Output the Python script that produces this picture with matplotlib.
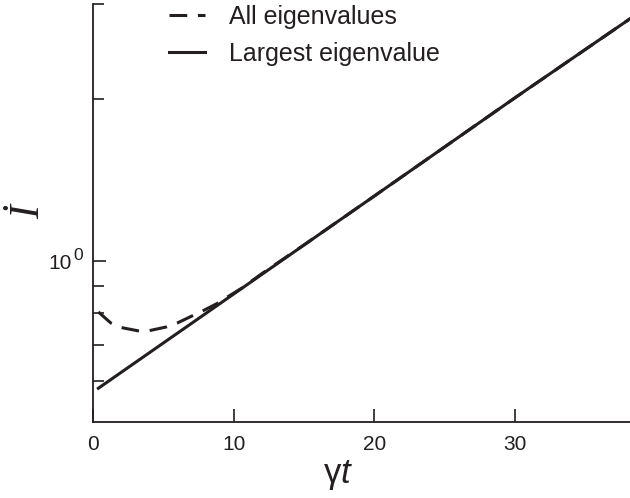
import matplotlib
matplotlib.use("Agg")
import matplotlib.pyplot as plt
from matplotlib.ticker import FixedLocator, FixedFormatter, NullFormatter

plt.rcParams['font.family'] = ['Liberation Sans', 'DejaVu Sans']
plt.rcParams['mathtext.fontset'] = 'custom'
plt.rcParams['mathtext.rm'] = 'Liberation Sans'
plt.rcParams['mathtext.it'] = 'Liberation Sans:italic'
plt.rcParams['mathtext.bf'] = 'Liberation Sans:bold'

# values (gamma*t, I-dot)
t_all = [0.38, 1.26, 2.01, 3.27, 3.99, 5.22, 6.00, 7.07, 7.90, 8.92, 9.68, 10.63, 12.0, 15.0, 20.0, 30.0, 38.2]
i_all = [0.805, 0.768, 0.753, 0.742, 0.743, 0.755, 0.768, 0.792, 0.811, 0.837, 0.862, 0.893, 0.948, 1.072, 1.321, 2.01, 2.82]

t_max = [0.38, 10.0, 20.0, 30.0, 38.2]
i_max = [0.581, 0.869, 1.321, 2.01, 2.82]

labels = ['All eigenvalues', 'Largest eigenvalue']
ink = '#231f20'

fig = plt.figure(figsize=(6.3, 4.98), dpi=100)
ax = fig.add_axes([93 / 630, 76 / 498, 537 / 630, 418 / 498])

ax.plot(t_all, i_all, color=ink, lw=2.2, dashes=(5.8, 3.5), label=labels[0])
ax.plot(t_max, i_max, color=ink, lw=2.2, label=labels[1])

ax.set_yscale('log')
ax.set_xlim(0, 38.17)
ax.set_ylim(0.503, 3.0)

ax.spines['top'].set_visible(False)
ax.spines['right'].set_visible(False)
for s in ('left', 'bottom'):
    ax.spines[s].set_linewidth(1.3)
    ax.spines[s].set_color(ink)

ax.set_xticks([0, 10, 20, 30])
ax.yaxis.set_major_locator(FixedLocator([1.0]))
ax.yaxis.set_major_formatter(FixedFormatter(['10']))
ax.yaxis.set_minor_locator(FixedLocator([0.6, 0.7, 0.8, 0.9, 2, 3]))
ax.yaxis.set_minor_formatter(NullFormatter())

ax.tick_params(axis='both', which='major', direction='in', length=9.5, width=1.2,
               color=ink, labelsize=15, labelcolor=ink)
ax.tick_params(axis='x', which='major', pad=9)
ax.tick_params(axis='y', which='major', pad=15)
ax.tick_params(axis='y', which='minor', direction='in', length=8, width=1.2, color=ink)

# exponent of the 10^0 label
fig.text(78 / 630, 1 - 255 / 498, '0', fontsize=12.5, ha='center', va='center', color=ink)

fig.text(338 / 630, 1 - 483 / 498, r'$\mathrm{\gamma}t$', fontsize=25,
         ha='center', va='baseline', color=ink)
fig.text(29 / 630, 1 - 212 / 498, '\u0130', fontsize=30, rotation=90,
         family='Liberation Serif', style='italic', ha='center', va='center', color=ink)

leg = ax.legend(loc='upper left', bbox_to_anchor=(164 / 630, 1 - 0 / 498),
                bbox_transform=fig.transFigure, frameon=False, fontsize=18,
                handlelength=1.45, handletextpad=0.95, labelspacing=0.5,
                borderpad=0.2, borderaxespad=0)
for txt in leg.get_texts():
    txt.set_color(ink)

fig.savefig('out.png', dpi=100)
